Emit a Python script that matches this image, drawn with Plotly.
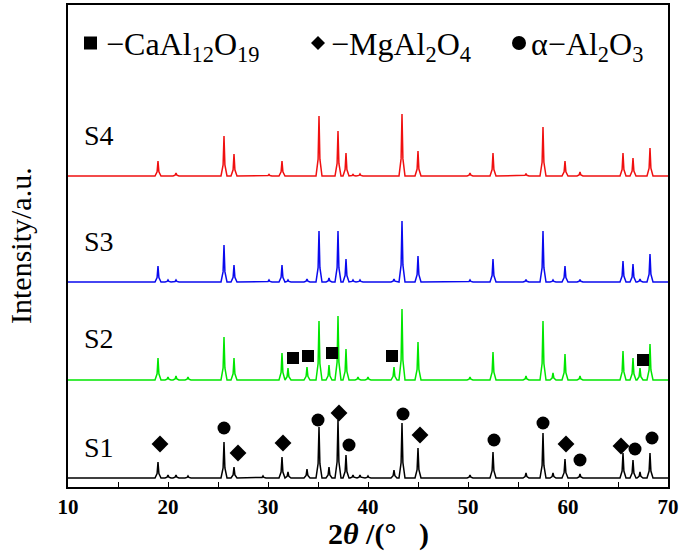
import plotly.graph_objects as go

# ---------------- data ----------------
samples = ["S1", "S2", "S3", "S4"]
colors = ["#000000", "#00e600", "#0a0aee", "#f01010"]
baselines = [9, 107, 205, 311]          # vertical offsets (a.u.)
label_y = [39.5, 148.5, 246, 352]

s1_pos = [19.0, 20.0, 20.8, 22.0, 25.6, 26.6, 29.5, 31.4, 32.0, 33.9, 35.1, 36.1, 37.0, 37.8, 38.5, 39.2, 40.0,
          42.6, 43.4, 45.0, 50.2, 52.5, 55.8, 57.5, 58.5, 59.7, 61.2, 65.5, 66.5, 67.2, 68.2]
s1_int = [16, 3, 3, 2, 36, 11, 2, 21, 6, 9, 51, 11, 58, 23, 3, 3, 2,
          8, 55, 30, 3, 26, 5, 45, 5, 19, 4, 25, 18, 6, 25]

s2_pos = [19.0, 20.0, 20.8, 22.0, 25.6, 26.6, 31.4, 32.0, 33.9, 35.1, 36.1, 37.0, 37.8, 39.0, 40.0,
          42.6, 43.4, 45.0, 50.2, 52.5, 55.8, 57.5, 58.5, 59.7, 61.2, 65.5, 66.5, 67.2, 68.2]
s2_int = [22, 3, 4, 3, 43, 22, 27, 12, 13, 59, 15, 64, 31, 3, 3,
          13, 71, 38, 3, 28, 4, 59, 7, 26, 4, 29, 22, 12, 36]

s3_pos = [19.0, 20.0, 20.8, 25.6, 26.6, 30.1, 31.4, 32.0, 33.9, 35.1, 36.1, 37.0, 37.8, 38.5, 39.2,
          42.6, 43.4, 45.0, 50.2, 52.5, 55.8, 57.5, 58.5, 59.7, 61.2, 65.5, 66.5, 67.2, 68.2]
s3_int = [16, 2, 2, 37, 17, 2, 17, 2, 3, 51, 4, 51, 23, 2, 2,
          3, 61, 26, 2, 23, 2.5, 51, 2, 16, 2.5, 21, 18, 3, 28]

s4_pos = [19.0, 20.8, 25.6, 26.6, 30.1, 31.4, 35.1, 37.0, 37.8, 38.5, 39.2,
          43.4, 45.0, 50.2, 52.5, 55.8, 57.5, 59.7, 61.2, 65.5, 66.5, 68.2]
s4_int = [15, 3, 40, 22, 1.5, 15, 60, 45, 23, 1.5, 2,
          62, 25, 3, 23, 2.5, 49, 15, 4, 23, 18, 28]

# phase identification markers (2theta, intensity a.u.)
caal_x = [32.5, 34.0, 36.4, 42.4, 67.5]
caal_y = [129, 131, 134, 131, 127]
mgal_x = [19.2, 27.0, 31.5, 37.1, 45.2, 59.8, 65.3]
mgal_y = [43, 34, 44, 74, 52, 43, 41]
al2o3_x = [25.6, 35.0, 38.1, 43.5, 52.6, 57.5, 61.2, 66.7, 68.4]
al2o3_y = [59, 67, 42, 73, 47, 64, 27, 38, 49]

phase_names = ["−CaAl<sub>12</sub>O<sub>19</sub>", "−MgAl<sub>2</sub>O<sub>4</sub>", "α−Al<sub>2</sub>O<sub>3</sub>"]
x_ticks = [10, 20, 30, 40, 50, 60, 70]

# ---------------- build ----------------
FOOT = 0.3
SH = 0.09
SH_FRAC = 0.28


def profile(pos, inten, base):
    xs, ys = [10.0], [base]
    for p, h in sorted(zip(pos, inten)):
        xs += [p - FOOT, p - SH, p, p + SH, p + FOOT]
        ys += [base, base + SH_FRAC * h, base + h, base + SH_FRAC * h, base]
    xs.append(70.0)
    ys.append(base)
    return xs, ys


series = [(s1_pos, s1_int), (s2_pos, s2_int), (s3_pos, s3_int), (s4_pos, s4_int)]

fig = go.Figure()
for name, (pos, inten), col, base in zip(samples, series, colors, baselines):
    xs, ys = profile(pos, inten, base)
    fig.add_trace(go.Scatter(x=xs, y=ys, mode="lines", line=dict(color=col, width=1.5),
                             showlegend=False, name=name))

fig.add_trace(go.Scatter(x=caal_x, y=caal_y, mode="markers", name=phase_names[0], showlegend=False,
                         marker=dict(symbol="square", size=12, color="black")))
fig.add_trace(go.Scatter(x=mgal_x, y=mgal_y, mode="markers", name=phase_names[1], showlegend=False,
                         marker=dict(symbol="diamond", size=13, color="black")))
fig.add_trace(go.Scatter(x=al2o3_x, y=al2o3_y, mode="markers", name=phase_names[2], showlegend=False,
                         marker=dict(symbol="circle", size=13, color="black")))

serif = "Liberation Serif, Times New Roman, serif"

# plot area in pixels: x 68..668, y 5..487
def px(xp):
    return (xp - 68) / 600.0


def py(yp):
    return (487 - yp) / 482.0


for name, yv in zip(samples, label_y):
    fig.add_annotation(x=11.4, y=yv, text=name, showarrow=False, xanchor="left", yanchor="middle",
                       font=dict(family=serif, size=28, color="black"))

# key glyphs and texts
leg_y = 43
fig.add_shape(type="rect", xref="paper", yref="paper", x0=px(84), x1=px(97), y0=py(leg_y + 6.5), y1=py(leg_y - 6.5),
              fillcolor="black", line=dict(width=0))
fig.add_shape(type="path", xref="paper", yref="paper",
              path=f"M {px(311)} {py(leg_y)} L {px(318)} {py(leg_y - 7)} L {px(325)} {py(leg_y)} L {px(318)} {py(leg_y + 7)} Z",
              fillcolor="black", line=dict(width=0))
fig.add_shape(type="circle", xref="paper", yref="paper", x0=px(512), x1=px(526), y0=py(leg_y + 7), y1=py(leg_y - 7),
              fillcolor="black", line=dict(width=0))
for txt, xl in zip(phase_names, [104, 329, 529]):
    fig.add_annotation(xref="paper", yref="paper", x=px(xl), y=py(leg_y - 19), text=txt, showarrow=False,
                       xanchor="left", yanchor="top", font=dict(family=serif, size=32, color="black"))

# axis titles
fig.add_annotation(xref="paper", yref="paper", x=px(378), y=py(553), text="<b>2<i>θ</i> /(°   )</b>",
                   showarrow=False, xanchor="center", yanchor="bottom",
                   font=dict(family=serif, size=30, color="black"))
fig.add_annotation(xref="paper", yref="paper", x=px(20), y=py(246), text="Intensity/a.u.", textangle=-90,
                   showarrow=False, xanchor="center", yanchor="middle",
                   font=dict(family=serif, size=30, color="black"))

fig.update_layout(
    width=685, height=553,
    margin=dict(l=68, r=17, t=5, b=66),
    plot_bgcolor="white", paper_bgcolor="white",
    font=dict(family=serif, color="black"),
    showlegend=False,
    xaxis=dict(range=[10, 70], tickvals=x_ticks, ticktext=[str(v) for v in x_ticks],
               ticks="inside", ticklen=5, tickwidth=1.2, tickcolor="black",
               minor=dict(dtick=5, ticks="inside", ticklen=5, tickwidth=1.2, tickcolor="black"),
               showline=True, linecolor="black", linewidth=1.8, mirror=True,
               showgrid=False, zeroline=False, automargin=False,
               tickfont=dict(family=serif, size=21, color="black", weight="bold")),
    yaxis=dict(range=[0, 482], showticklabels=False, ticks="", showline=True, linecolor="black",
               linewidth=1.8, mirror=True, showgrid=False, zeroline=False, automargin=False),
)

fig.write_html("out.html", config={"displayModeBar": False},
               post_script="document.body.style.margin='0';")
